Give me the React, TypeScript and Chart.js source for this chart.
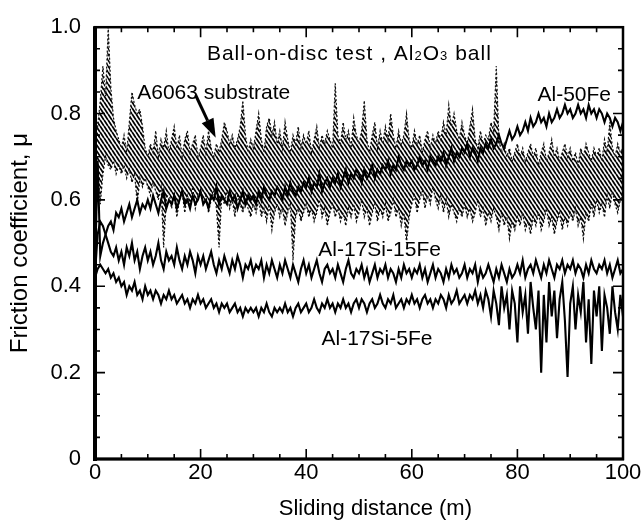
import React, { useEffect, useRef } from 'react';
import { Chart, registerables } from 'chart.js';

Chart.register(...registerables);

const STEP_M = 0.5;

// Al-50Fe friction trace, 0 → 100 m every 0.5 m
const al50Fe = [
  0.44, 0.69, 0.47, 0.50, 0.52, 0.54, 0.55, 0.53, 0.57, 0.56,
  0.58, 0.55, 0.57, 0.59, 0.56, 0.58, 0.60, 0.57, 0.59, 0.58,
  0.60, 0.58, 0.61, 0.59, 0.57, 0.60, 0.62, 0.58, 0.60, 0.59,
  0.61, 0.58, 0.60, 0.62, 0.59, 0.60, 0.58, 0.61, 0.59, 0.60,
  0.62, 0.59, 0.60, 0.58, 0.61, 0.60, 0.63, 0.59, 0.61, 0.60,
  0.59, 0.62, 0.60, 0.61, 0.58, 0.60, 0.62, 0.59, 0.61, 0.60,
  0.61, 0.59, 0.62, 0.60, 0.63, 0.61, 0.60, 0.62, 0.61, 0.63,
  0.62, 0.60, 0.63, 0.61, 0.64, 0.62, 0.61, 0.63, 0.62, 0.64,
  0.63, 0.65, 0.62, 0.64, 0.63, 0.66, 0.62, 0.64, 0.65, 0.63,
  0.65, 0.64, 0.66, 0.63, 0.65, 0.67, 0.64, 0.66, 0.65, 0.67,
  0.66, 0.64, 0.67, 0.65, 0.66, 0.68, 0.65, 0.67, 0.66, 0.68,
  0.67, 0.69, 0.66, 0.68, 0.67, 0.70, 0.68, 0.67, 0.69, 0.68,
  0.69, 0.67, 0.68, 0.70, 0.68, 0.69, 0.67, 0.70, 0.69, 0.68,
  0.70, 0.69, 0.71, 0.68, 0.70, 0.72, 0.69, 0.71, 0.70, 0.72,
  0.71, 0.73, 0.70, 0.72, 0.71, 0.69, 0.72, 0.71, 0.73, 0.72,
  0.74, 0.72, 0.73, 0.75, 0.73, 0.72, 0.74, 0.76, 0.74, 0.75,
  0.77, 0.75, 0.76, 0.78, 0.76, 0.79, 0.77, 0.78, 0.80, 0.78,
  0.79, 0.77, 0.80, 0.78, 0.79, 0.81, 0.79, 0.80, 0.82, 0.80,
  0.81, 0.79, 0.80, 0.82, 0.80, 0.81, 0.79, 0.82, 0.80, 0.81,
  0.79, 0.81, 0.80, 0.78, 0.80, 0.79, 0.77, 0.79, 0.78, 0.76,
  0.78,
];

// Al-17Si-15Fe friction trace
const al17Si15Fe = [
  0.43, 0.52, 0.55, 0.54, 0.52, 0.50, 0.48, 0.47, 0.49, 0.46,
  0.48, 0.45, 0.49, 0.47, 0.50, 0.46, 0.48, 0.44, 0.47, 0.49,
  0.46, 0.48, 0.45, 0.47, 0.50, 0.46, 0.44, 0.48, 0.46, 0.47,
  0.45, 0.49, 0.46, 0.44, 0.47, 0.45, 0.48, 0.46, 0.43, 0.47,
  0.45, 0.47, 0.44, 0.46, 0.48, 0.45, 0.43, 0.46, 0.44, 0.47,
  0.45, 0.43, 0.46, 0.44, 0.47, 0.45, 0.42, 0.45, 0.44, 0.46,
  0.43, 0.45, 0.44, 0.46, 0.42, 0.45, 0.43, 0.46, 0.44, 0.42,
  0.45, 0.43, 0.46, 0.44, 0.42, 0.45, 0.43, 0.41, 0.44, 0.46,
  0.43, 0.45, 0.42, 0.44, 0.46, 0.43, 0.41, 0.44, 0.45, 0.43,
  0.44, 0.42, 0.45, 0.43, 0.41, 0.44, 0.46, 0.43, 0.42, 0.44,
  0.43, 0.45, 0.42, 0.44, 0.41, 0.43, 0.45, 0.42, 0.44, 0.43,
  0.45, 0.42, 0.44, 0.43, 0.41, 0.44, 0.42, 0.45, 0.43, 0.44,
  0.42, 0.44, 0.43, 0.45, 0.42, 0.44, 0.41, 0.43, 0.45, 0.42,
  0.44, 0.43, 0.41, 0.44, 0.42, 0.45, 0.43, 0.44, 0.42, 0.43,
  0.45, 0.42, 0.44, 0.43, 0.45, 0.41, 0.44, 0.42, 0.43, 0.45,
  0.43, 0.41, 0.44, 0.42, 0.45, 0.43, 0.41, 0.44, 0.42, 0.43,
  0.45, 0.43, 0.46, 0.42, 0.44, 0.45, 0.43, 0.46, 0.44, 0.42,
  0.45, 0.43, 0.46, 0.44, 0.42, 0.45, 0.44, 0.46, 0.43, 0.45,
  0.44, 0.46, 0.43, 0.45, 0.44, 0.42, 0.45, 0.43, 0.46, 0.44,
  0.43, 0.45, 0.44, 0.46, 0.43, 0.45, 0.42, 0.44, 0.46, 0.43,
  0.44,
];

// Al-17Si-5Fe friction trace
const al17Si5Fe = [
  0.42, 0.44, 0.45, 0.44, 0.43, 0.44, 0.42, 0.43, 0.41, 0.42,
  0.40, 0.41, 0.38, 0.40, 0.39, 0.41, 0.38, 0.39, 0.37, 0.40,
  0.38, 0.39, 0.37, 0.39, 0.38, 0.36, 0.38, 0.37, 0.39, 0.37,
  0.38, 0.36, 0.37, 0.38, 0.36, 0.37, 0.35, 0.37, 0.36, 0.38,
  0.36, 0.37, 0.35, 0.36, 0.37, 0.35, 0.36, 0.34, 0.36, 0.35,
  0.36, 0.34, 0.35, 0.36, 0.34, 0.35, 0.33, 0.35, 0.34, 0.35,
  0.34, 0.35, 0.33, 0.35, 0.34, 0.36, 0.34, 0.33, 0.35, 0.34,
  0.35, 0.34, 0.36, 0.34, 0.35, 0.33, 0.35, 0.36, 0.34, 0.35,
  0.36, 0.34, 0.35, 0.37, 0.35, 0.34, 0.36, 0.35, 0.37, 0.35,
  0.36, 0.34, 0.36, 0.35, 0.37, 0.35, 0.36, 0.34, 0.36, 0.37,
  0.35, 0.37, 0.36, 0.34, 0.36, 0.37, 0.35, 0.36, 0.38, 0.36,
  0.35, 0.37, 0.36, 0.38, 0.35, 0.36, 0.37, 0.35, 0.37, 0.36,
  0.38, 0.36, 0.37, 0.35, 0.37, 0.38, 0.36, 0.37, 0.35, 0.37,
  0.36, 0.38, 0.37, 0.35, 0.38, 0.36, 0.37, 0.39, 0.36, 0.37,
  0.38, 0.36, 0.38, 0.37, 0.39, 0.36, 0.38, 0.35, 0.39, 0.37,
  0.33, 0.39, 0.36, 0.31, 0.40, 0.35, 0.38, 0.30, 0.39, 0.36,
  0.27, 0.40, 0.34, 0.38, 0.29, 0.41, 0.35, 0.30, 0.39, 0.20,
  0.38, 0.27, 0.41, 0.33, 0.39, 0.28, 0.37, 0.41, 0.32, 0.19,
  0.36, 0.40, 0.30, 0.38, 0.34, 0.41, 0.27, 0.37, 0.22, 0.39,
  0.33, 0.40, 0.25, 0.38, 0.35, 0.29, 0.40, 0.34, 0.30, 0.38,
  0.33,
];

// A6063 substrate: upper edge of the fluctuation band
const a6063Upper = [
  0.80, 0.77, 0.83, 0.91, 0.84, 1.00, 0.86, 0.79, 0.76, 0.74,
  0.72, 0.75, 0.71, 0.78, 0.85, 0.82, 0.80, 0.81, 0.77, 0.72,
  0.70, 0.73, 0.71, 0.76, 0.70, 0.74, 0.72, 0.76, 0.71, 0.74,
  0.77, 0.72, 0.75, 0.70, 0.74, 0.76, 0.71, 0.73, 0.75, 0.70,
  0.72, 0.75, 0.71, 0.76, 0.72, 0.70, 0.73, 0.71, 0.74, 0.78,
  0.76, 0.73, 0.75, 0.72, 0.74, 0.77, 0.83, 0.75, 0.71, 0.74,
  0.72, 0.76, 0.80, 0.74, 0.71, 0.77, 0.79, 0.75, 0.78, 0.73,
  0.76, 0.72, 0.78, 0.74, 0.71, 0.75, 0.73, 0.77, 0.72, 0.75,
  0.73, 0.76, 0.71, 0.74, 0.77, 0.72, 0.75, 0.73, 0.76, 0.74,
  0.72, 0.87, 0.75, 0.73, 0.78, 0.74, 0.76, 0.72, 0.79, 0.75,
  0.73, 0.76, 0.83, 0.74, 0.71, 0.75, 0.78, 0.72, 0.76, 0.73,
  0.77, 0.74, 0.80, 0.75, 0.72, 0.76, 0.73, 0.75, 0.80, 0.74,
  0.72, 0.76, 0.73, 0.75, 0.71, 0.74, 0.76, 0.72, 0.75, 0.73,
  0.76, 0.74, 0.78, 0.75, 0.82, 0.77, 0.80, 0.76, 0.74, 0.78,
  0.75, 0.73, 0.77, 0.81, 0.74, 0.72, 0.76, 0.73, 0.75, 0.74,
  0.78, 0.76, 0.91, 0.74, 0.71, 0.73, 0.70, 0.72, 0.69, 0.71,
  0.73, 0.70, 0.72, 0.69, 0.71, 0.73, 0.70, 0.72, 0.68, 0.71,
  0.73, 0.69, 0.71, 0.74, 0.70, 0.72, 0.69, 0.71, 0.73, 0.70,
  0.72, 0.69, 0.71, 0.68, 0.72, 0.70, 0.73, 0.71, 0.69, 0.72,
  0.70, 0.72, 0.69, 0.74, 0.71, 0.78, 0.72, 0.70, 0.73, 0.71,
  0.72,
];

// A6063 substrate: lower edge of the fluctuation band
const a6063Lower = [
  0.72, 0.68, 0.59, 0.66, 0.70, 0.68, 0.67, 0.69, 0.66, 0.68,
  0.66, 0.68, 0.65, 0.67, 0.64, 0.66, 0.59, 0.65, 0.63, 0.65,
  0.63, 0.61, 0.64, 0.62, 0.60, 0.63, 0.49, 0.60, 0.62, 0.58,
  0.61, 0.56, 0.60, 0.62, 0.57, 0.61, 0.59, 0.63, 0.58, 0.61,
  0.62, 0.59, 0.61, 0.57, 0.60, 0.62, 0.58, 0.49, 0.61, 0.59,
  0.62, 0.58, 0.60, 0.56, 0.61, 0.59, 0.57, 0.60, 0.58, 0.56,
  0.59, 0.57, 0.60, 0.56, 0.58, 0.55, 0.59, 0.53, 0.57, 0.59,
  0.56, 0.58, 0.54, 0.57, 0.59, 0.46, 0.56, 0.58, 0.55, 0.57,
  0.59, 0.56, 0.58, 0.55, 0.57, 0.60, 0.56, 0.58, 0.54, 0.57,
  0.59, 0.56, 0.58, 0.55, 0.57, 0.54, 0.58, 0.56, 0.59, 0.55,
  0.57, 0.60, 0.56, 0.58, 0.54, 0.57, 0.59, 0.55, 0.58, 0.56,
  0.59, 0.55, 0.57, 0.60, 0.56, 0.58, 0.54, 0.57, 0.50, 0.56,
  0.59, 0.61, 0.57, 0.60, 0.62, 0.58, 0.61, 0.59, 0.63, 0.60,
  0.58, 0.61, 0.57, 0.60, 0.56, 0.59, 0.57, 0.55, 0.58, 0.56,
  0.59, 0.56, 0.58, 0.55, 0.57, 0.60, 0.56, 0.58, 0.54, 0.57,
  0.55, 0.58, 0.56, 0.53, 0.57, 0.54, 0.56, 0.51, 0.55, 0.53,
  0.56, 0.54, 0.57, 0.53, 0.55, 0.52, 0.56, 0.54, 0.57, 0.53,
  0.55, 0.58, 0.54, 0.56, 0.52, 0.55, 0.57, 0.53, 0.56, 0.54,
  0.57, 0.55, 0.58, 0.54, 0.56, 0.51, 0.57, 0.55, 0.59, 0.56,
  0.60, 0.57, 0.59, 0.56, 0.61, 0.58, 0.62, 0.59, 0.57, 0.60,
  0.61,
];

const FONT = '"Liberation Sans", Arial, Helvetica, sans-serif';

function makeHatch(): CanvasPattern | string {
  const c = document.createElement('canvas');
  c.width = 4;
  c.height = 6;
  const g = c.getContext('2d');
  if (!g) return '#555';
  g.strokeStyle = '#000';
  g.lineWidth = 1.8;
  g.beginPath();
  for (let k = -1; k <= 1; k++) {
    g.moveTo(k * 4, 0);
    g.lineTo(k * 4 + 4, 6);
  }
  g.stroke();
  return g.createPattern(c, 'repeat') || '#555';
}

const overlay = {
  id: 'overlay',
  afterDraw(chart: any) {
    const { ctx, chartArea: a, scales } = chart;
    const xs = scales.x;
    const ys = scales.y;
    const X = (v: number) => xs.getPixelForValue(v);
    const Y = (v: number) => ys.getPixelForValue(v);
    ctx.save();
    ctx.strokeStyle = '#000';
    ctx.fillStyle = '#000';

    // inward ticks on all four sides
    ctx.lineWidth = 1.6;
    ctx.beginPath();
    for (let k = 0; k <= 20; k++) {
      const px = X(k * 5);
      const len = k % 4 === 0 ? 10 : 5;
      ctx.moveTo(px, a.bottom);
      ctx.lineTo(px, a.bottom - len);
      ctx.moveTo(px, a.top);
      ctx.lineTo(px, a.top + len);
    }
    for (let k = 0; k <= 20; k++) {
      const py = Y(k * 0.05);
      const len = k % 4 === 0 ? 10 : 5;
      ctx.moveTo(a.left, py);
      ctx.lineTo(a.left + len, py);
      ctx.moveTo(a.right, py);
      ctx.lineTo(a.right - len, py);
    }
    ctx.stroke();

    // frame
    ctx.lineWidth = 2.5;
    ctx.strokeRect(a.left, a.top, a.right - a.left, a.bottom - a.top);
    ctx.lineWidth = 4;
    ctx.beginPath();
    ctx.moveTo(a.left, a.top - 1);
    ctx.lineTo(a.left, a.bottom + 2);
    ctx.stroke();
    ctx.lineWidth = 3.2;
    ctx.beginPath();
    ctx.moveTo(a.left - 2, a.bottom);
    ctx.lineTo(a.right + 1, a.bottom);
    ctx.stroke();

    // annotations
    ctx.textBaseline = 'alphabetic';
    ctx.textAlign = 'left';
    const big = `21px ${FONT}`;
    const small = `13px ${FONT}`;

    // heading with subscripts
    const parts: [string, string][] = [
      ['Ball-on-disc test , Al', big],
      ['2', small],
      ['O', big],
      ['3', small],
      [' ball', big],
    ];
    let tx = X(21.2);
    const ty = Y(0.924);
    (ctx as any).letterSpacing = '1px';
    for (const [t, f] of parts) {
      ctx.font = f;
      ctx.fillText(t, tx, ty);
      tx += ctx.measureText(t).width;
    }
    (ctx as any).letterSpacing = '0px';

    ctx.font = big;
    ctx.fillText('A6063 substrate', X(8), Y(0.834));
    ctx.fillText('Al-50Fe', X(83.8), Y(0.83));
    ctx.fillText('Al-17Si-15Fe', X(42.3), Y(0.469));
    ctx.fillText('Al-17Si-5Fe', X(42.9), Y(0.265));

    // arrow
    const x0 = X(19.05), y0 = Y(0.843);
    const x1 = X(22.86), y1 = Y(0.744);
    const ang = Math.atan2(y1 - y0, x1 - x0);
    const headLen = 19, headHalf = 6.5;
    const bx = x1 - headLen * Math.cos(ang);
    const by = y1 - headLen * Math.sin(ang);
    ctx.lineWidth = 3;
    ctx.beginPath();
    ctx.moveTo(x0, y0);
    ctx.lineTo(bx, by);
    ctx.stroke();
    ctx.beginPath();
    ctx.moveTo(x1, y1);
    ctx.lineTo(bx + headHalf * Math.sin(ang), by - headHalf * Math.cos(ang));
    ctx.lineTo(bx - headHalf * Math.sin(ang), by + headHalf * Math.cos(ang));
    ctx.closePath();
    ctx.fill();

    // x axis title
    ctx.font = `22px ${FONT}`;
    ctx.textAlign = 'center';
    ctx.fillText('Sliding distance (m)', X(53.1), a.bottom + 56);

    ctx.restore();
  },
};

export default function App() {
  const ref = useRef<HTMLCanvasElement>(null);

  useEffect(() => {
    const canvas = ref.current;
    if (!canvas) return;
    const hatch = makeHatch();
    const toXY = (arr: number[]) => arr.map((y, i) => ({ x: i * STEP_M, y }));
    const solid = (label: string, arr: number[]) => ({
      label,
      data: toXY(arr),
      borderColor: '#000',
      borderWidth: 2.1,
      pointRadius: 0,
      tension: 0,
      fill: false,
    });

    const chart = new Chart(canvas, {
      type: 'line',
      data: {
        datasets: [
          solid('Al-50Fe', al50Fe),
          solid('Al-17Si-15Fe', al17Si15Fe),
          solid('Al-17Si-5Fe', al17Si5Fe),
          {
            label: 'A6063 substrate (upper)',
            data: toXY(a6063Upper),
            borderColor: '#111',
            borderWidth: 1.2,
            borderDash: [2, 2],
            pointRadius: 0,
            tension: 0,
            backgroundColor: hatch as any,
            fill: '+1',
          },
          {
            label: 'A6063 substrate (lower)',
            data: toXY(a6063Lower),
            borderColor: '#111',
            borderWidth: 1.2,
            borderDash: [2, 2],
            pointRadius: 0,
            tension: 0,
            fill: false,
          },
        ],
      },
      options: {
        responsive: false,
        animation: false,
        devicePixelRatio: 1,
        layout: { padding: { top: 13, right: 20, left: 0, bottom: 0 } },
        plugins: {
          legend: { display: false },
          tooltip: { enabled: false },
        },
        scales: {
          x: {
            type: 'linear',
            min: 0,
            max: 100,
            ticks: {
              stepSize: 20,
              color: '#000',
              padding: 1,
              font: { family: FONT, size: 22 },
              maxRotation: 0,
            },
            grid: { display: false, drawTicks: false },
            border: { display: false },
            afterFit: (s: any) => {
              s.height = 65;
            },
          },
          y: {
            type: 'linear',
            min: 0,
            max: 1,
            ticks: {
              stepSize: 0.2,
              color: '#000',
              padding: 14,
              font: { family: FONT, size: 22 },
              callback: (v: any) => (Number(v) === 0 ? '0' : Number(v).toFixed(1)),
            },
            grid: { display: false, drawTicks: false },
            border: { display: false },
            title: {
              display: true,
              text: 'Friction coefficient, μ',
              color: '#000',
              font: { family: FONT, size: 24 },
              padding: { top: 6, bottom: 0 },
            },
            afterFit: (s: any) => {
              s.width = 95;
            },
          },
        },
      },
      plugins: [overlay],
    });

    return () => chart.destroy();
  }, []);

  return (
    <div style={{ position: 'absolute', left: 0, top: 0, width: 643, height: 524, background: '#fff' }}>
      <canvas ref={ref} width={643} height={524} style={{ display: 'block' }} />
    </div>
  );
}
